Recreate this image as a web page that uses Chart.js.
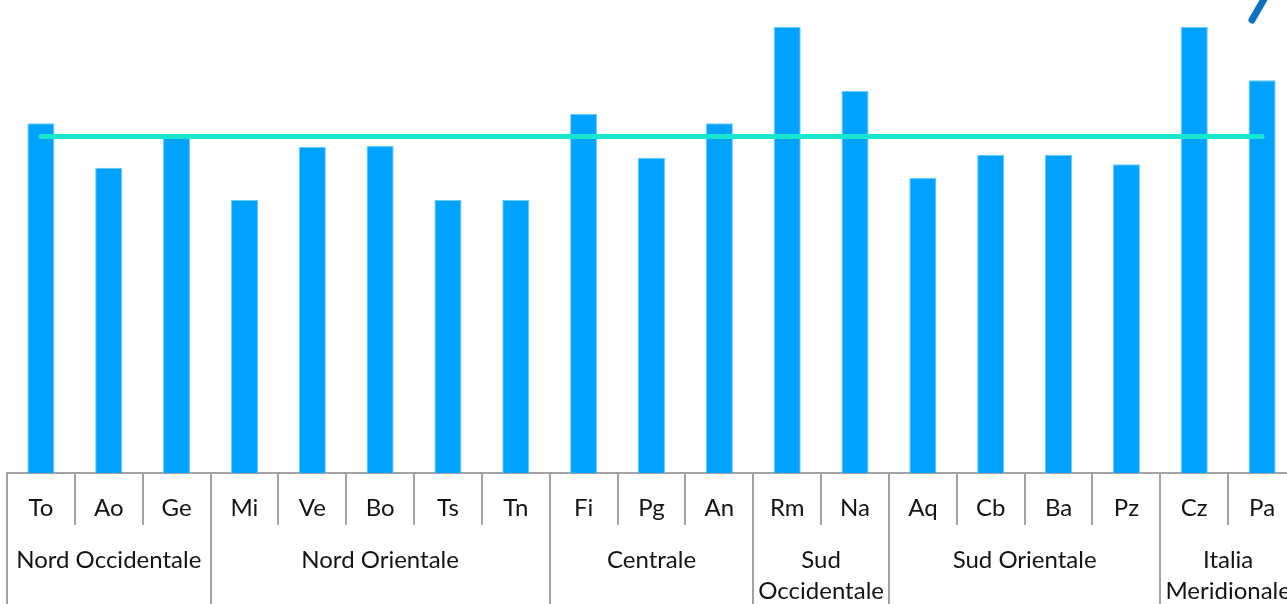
<!DOCTYPE html>
<html>
<head>
<meta charset="utf-8">
<script src="https://cdn.jsdelivr.net/npm/chart.js@4/dist/chart.umd.min.js"></script>
<style>
  html, body { margin: 0; padding: 0; background: #ffffff; overflow: hidden; width: 1287px; height: 604px; }
  #wrap { position: absolute; left: 0; top: 0; width: 1300px; height: 604px; }
</style>
</head>
<body>
<div id="wrap"><canvas id="c" width="1300" height="604"></canvas></div>
<script>
const categories = ['To','Ao','Ge','Mi','Ve','Bo','Ts','Tn','Fi','Pg','An','Rm','Na','Aq','Cb','Ba','Pz','Cz','Pa'];
const values = [78.4, 68.4, 75.1, 61.2, 73.1, 73.3, 61.2, 61.2, 80.5, 70.6, 78.4, 100, 85.6, 66.1, 71.3, 71.3, 69.2, 100, 88.0];
const averageLine = [75.4, 75.4, 75.4, 75.4, 75.4, 75.4, 75.4, 75.4, 75.4, 75.4, 75.4, 75.4, 75.4, 75.4, 75.4, 75.4, 75.4, 75.4, 75.4];
const groupNames = [['Nord Occidentale'], ['Nord Orientale'], ['Centrale'], ['Sud', 'Occidentale'], ['Sud Orientale'], ['Italia', 'Meridionale']];
const groupSizes = [3, 5, 3, 2, 4, 2];
const yMax = 106;

const FONT = 'Lato, "Open Sans", sans-serif';

const groupPlugin = {
  id: 'groups',
  afterDraw(chart) {
    const ctx = chart.ctx;
    const xs = chart.scales.x;
    const half = (xs.getPixelForValue(1) - xs.getPixelForValue(0)) / 2;
    const axisY = chart.chartArea.bottom;
    ctx.save();
    ctx.strokeStyle = '#a3a3a3';
    ctx.lineWidth = 2;
    let idx = 0;
    const bounds = [0];
    groupSizes.forEach(n => { idx += n; bounds.push(idx); });
    bounds.forEach(b => {
      const x = Math.round(xs.getPixelForValue(b) - half);
      ctx.beginPath();
      ctx.moveTo(x, axisY);
      ctx.lineTo(x, chart.height);
      ctx.stroke();
    });
    ctx.fillStyle = '#141414';
    ctx.font = '24px ' + FONT;
    ctx.textAlign = 'center';
    ctx.textBaseline = 'middle';
    for (let g = 0; g < groupSizes.length; g++) {
      const x0 = xs.getPixelForValue(bounds[g]) - half;
      const x1 = xs.getPixelForValue(bounds[g + 1]) - half;
      const cx = (x0 + x1) / 2;
      groupNames[g].forEach((t, i) => ctx.fillText(t, cx, 560 + i * 31));
    }
    ctx.strokeStyle = '#0a72bf';
    ctx.lineWidth = 7;
    ctx.lineCap = 'round';
    ctx.beginPath();
    ctx.moveTo(1267, -6);
    ctx.lineTo(1252, 20);
    ctx.stroke();
    ctx.restore();
  }
};

new Chart(document.getElementById('c'), {
  data: {
    labels: categories,
    datasets: [
      {
        type: 'line',
        data: averageLine,
        borderColor: '#19E6CF',
        borderWidth: 5,
        borderCapStyle: 'round',
        pointRadius: 0,
        order: 0
      },
      {
        type: 'bar',
        data: values,
        backgroundColor: '#00A2FF',
        borderColor: '#6cc8ff',
        borderWidth: 1,
        barPercentage: 0.4,
        categoryPercentage: 1,
        order: 1
      }
    ]
  },
  options: {
    responsive: false,
    animation: false,
    layout: { padding: { left: 7, right: 4, top: 0, bottom: 0 } },
    plugins: { legend: { display: false }, tooltip: { enabled: false } },
    scales: {
      y: { display: false, min: 0, max: yMax },
      x: {
        offset: true,
        border: { display: true, color: '#a3a3a3', width: 2 },
        grid: { display: true, offset: true, drawOnChartArea: false, drawTicks: true, tickLength: 52, color: '#a3a3a3', lineWidth: 2 },
        ticks: { color: '#141414', font: { family: FONT, size: 24 }, padding: -31, maxRotation: 0, autoSkip: false },
        afterFit(s) { s.height = 131; }
      }
    }
  },
  plugins: [groupPlugin]
});
</script>
</body>
</html>
